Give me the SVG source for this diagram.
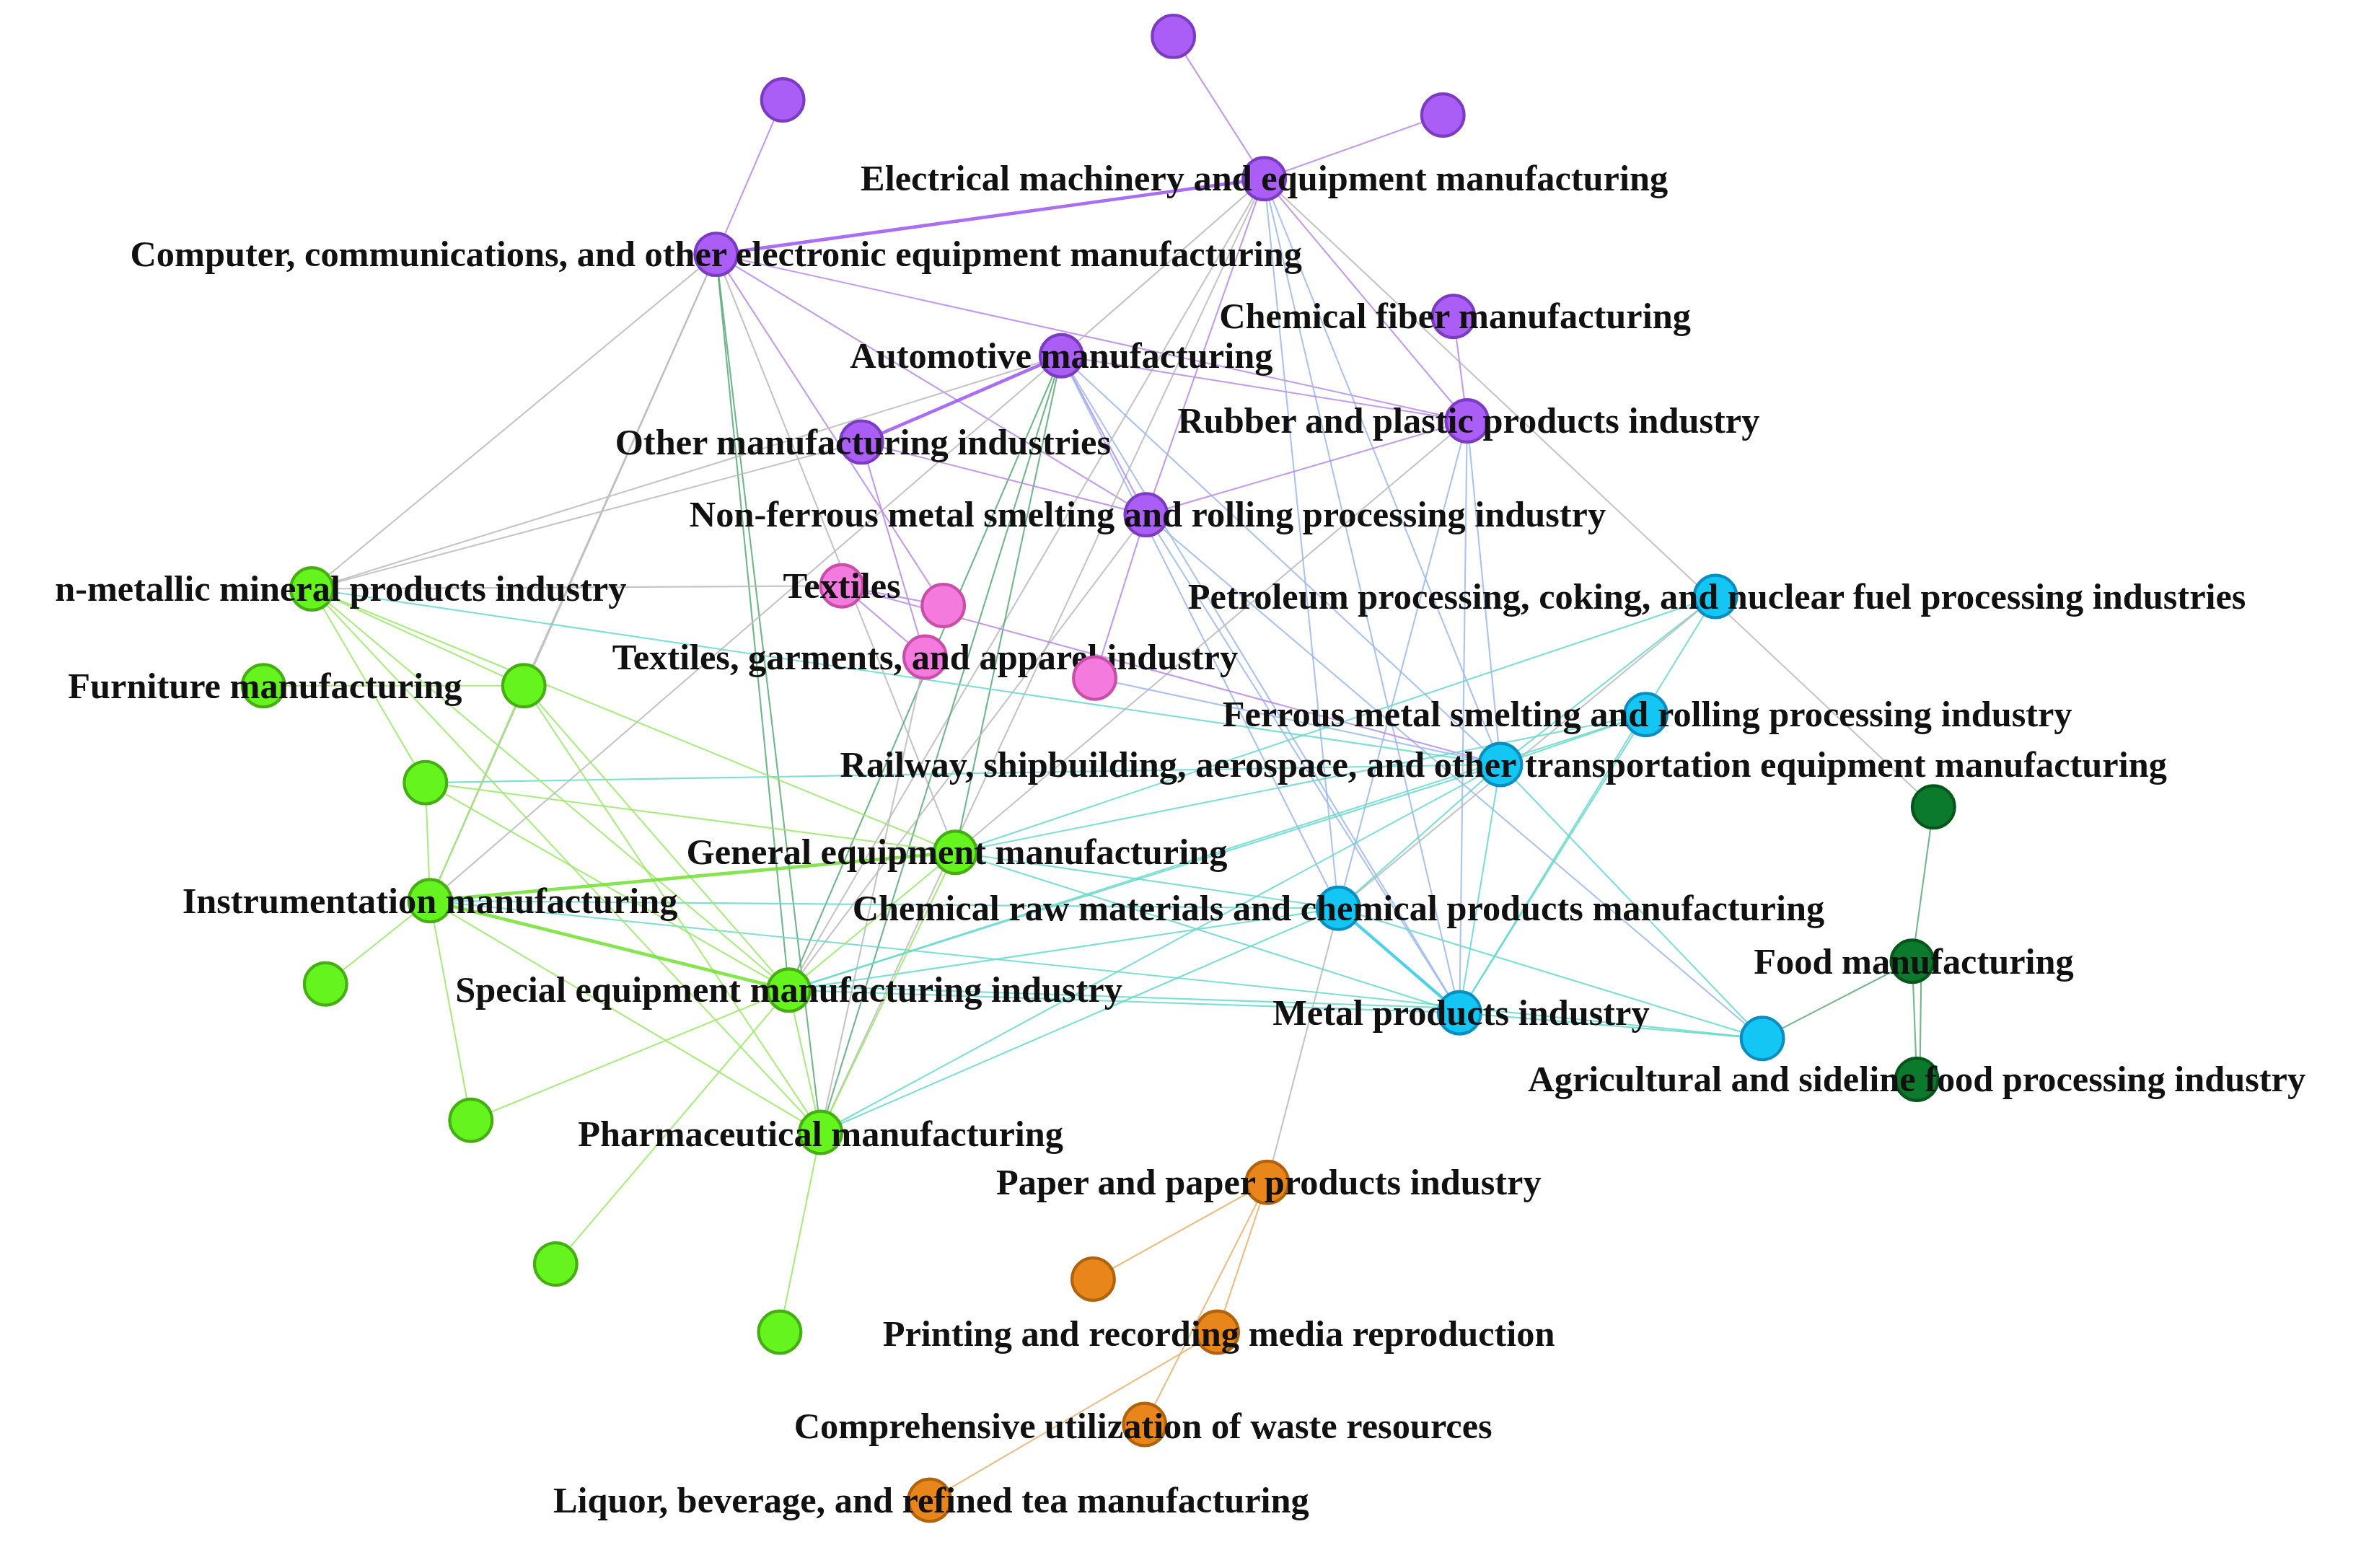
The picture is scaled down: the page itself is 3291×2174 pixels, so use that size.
<svg xmlns="http://www.w3.org/2000/svg" width="3291" height="2174" viewBox="0 0 3291 2174">
<style>
text{font-family:"Liberation Serif","DejaVu Serif",serif;font-weight:bold;font-size:24px;fill:#111;text-anchor:middle}
line{stroke-width:1;stroke-opacity:.85}
.pu{stroke:#b98ae8}.pu2{stroke:#9b55f0;stroke-width:2.2}.gr{stroke:#9be86a}.gr2{stroke:#6ee030;stroke-width:2.2}.bl{stroke:#9cb8ea}.te{stroke:#66d8cc}.te2{stroke:#2ec8e8;stroke-width:2}.gy{stroke:#bbbbbb}.dg{stroke:#5aa878}.or{stroke:#e8b070}
circle{stroke-width:2}
.p{fill:#aa5ef6;stroke:#7c3cc2}.k{fill:#f47ade;stroke:#c84ea8}.b{fill:#14c6f4;stroke:#0a8ec0}.d{fill:#0b7a2c;stroke:#05561a}.g{fill:#66f41e;stroke:#44ae12}.o{fill:#e8861c;stroke:#b0620c}
</style>
<rect width="3291" height="2174" fill="#fff"/>
<g transform="scale(2.0989)">
<g id="connectors">
<line class="pu" x1="775" y1="24" x2="835" y2="118"/>
<line class="pu" x1="517" y1="66" x2="473" y2="168"/>
<line class="pu" x1="953" y1="76" x2="835" y2="118"/>
<line class="pu2" x1="473" y1="168" x2="835" y2="118"/>
<line class="pu" x1="473" y1="168" x2="969" y2="278"/>
<line class="pu" x1="473" y1="168" x2="757" y2="340"/>
<line class="pu" x1="473" y1="168" x2="623" y2="400"/>
<line class="gy" x1="473" y1="168" x2="206" y2="389"/>
<line class="gy" x1="473" y1="168" x2="284" y2="595"/>
<line class="gy" x1="473" y1="168" x2="631" y2="563"/>
<line class="dg" x1="473" y1="168" x2="521" y2="654"/>
<line class="dg" x1="473" y1="168" x2="542" y2="748"/>
<line class="gy" x1="473" y1="168" x2="346" y2="453"/>
<line class="gy" x1="835" y1="118" x2="701" y2="235"/>
<line class="pu" x1="835" y1="118" x2="969" y2="278"/>
<line class="bl" x1="835" y1="118" x2="884" y2="600"/>
<line class="bl" x1="835" y1="118" x2="964" y2="669"/>
<line class="bl" x1="835" y1="118" x2="991" y2="505"/>
<line class="gy" x1="835" y1="118" x2="1277" y2="533"/>
<line class="gy" x1="835" y1="118" x2="521" y2="654"/>
<line class="gy" x1="835" y1="118" x2="542" y2="748"/>
<line class="pu" x1="835" y1="118" x2="757" y2="340"/>
<line class="pu" x1="960" y1="209" x2="969" y2="278"/>
<line class="pu" x1="701" y1="235" x2="969" y2="278"/>
<line class="pu2" x1="701" y1="235" x2="569" y2="292"/>
<line class="pu" x1="701" y1="235" x2="757" y2="340"/>
<line class="bl" x1="701" y1="235" x2="884" y2="600"/>
<line class="bl" x1="701" y1="235" x2="964" y2="669"/>
<line class="bl" x1="701" y1="235" x2="991" y2="505"/>
<line class="dg" x1="701" y1="235" x2="521" y2="654"/>
<line class="dg" x1="701" y1="235" x2="542" y2="748"/>
<line class="dg" x1="701" y1="235" x2="631" y2="563"/>
<line class="gy" x1="701" y1="235" x2="284" y2="595"/>
<line class="gy" x1="701" y1="235" x2="206" y2="389"/>
<line class="pu" x1="969" y1="278" x2="757" y2="340"/>
<line class="bl" x1="969" y1="278" x2="884" y2="600"/>
<line class="bl" x1="969" y1="278" x2="964" y2="669"/>
<line class="gy" x1="969" y1="278" x2="631" y2="563"/>
<line class="bl" x1="969" y1="278" x2="991" y2="505"/>
<line class="pu" x1="569" y1="292" x2="611" y2="434"/>
<line class="gy" x1="569" y1="292" x2="206" y2="389"/>
<line class="pu" x1="569" y1="292" x2="757" y2="340"/>
<line class="bl" x1="757" y1="340" x2="964" y2="669"/>
<line class="gy" x1="757" y1="340" x2="521" y2="654"/>
<line class="pu" x1="757" y1="340" x2="723" y2="448"/>
<line class="bl" x1="757" y1="340" x2="1164" y2="686"/>
<line class="pu" x1="556" y1="387" x2="623" y2="400"/>
<line class="pu" x1="556" y1="387" x2="611" y2="434"/>
<line class="gy" x1="556" y1="387" x2="206" y2="389"/>
<line class="pu" x1="556" y1="387" x2="991" y2="505"/>
<line class="gy" x1="611" y1="434" x2="542" y2="748"/>
<line class="bl" x1="723" y1="448" x2="991" y2="505"/>
<line class="te" x1="1133" y1="394" x2="991" y2="505"/>
<line class="te" x1="1133" y1="394" x2="631" y2="563"/>
<line class="te" x1="1133" y1="394" x2="964" y2="669"/>
<line class="gy" x1="1133" y1="394" x2="884" y2="600"/>
<line class="te" x1="1087" y1="472" x2="991" y2="505"/>
<line class="te" x1="1087" y1="472" x2="521" y2="654"/>
<line class="te" x1="1087" y1="472" x2="631" y2="563"/>
<line class="te" x1="1087" y1="472" x2="964" y2="669"/>
<line class="te" x1="991" y1="505" x2="884" y2="600"/>
<line class="te" x1="991" y1="505" x2="964" y2="669"/>
<line class="te" x1="991" y1="505" x2="1164" y2="686"/>
<line class="te" x1="991" y1="505" x2="521" y2="654"/>
<line class="te" x1="991" y1="505" x2="281" y2="517"/>
<line class="te" x1="991" y1="505" x2="206" y2="389"/>
<line class="te" x1="991" y1="505" x2="542" y2="748"/>
<line class="te2" x1="884" y1="600" x2="964" y2="669"/>
<line class="te" x1="884" y1="600" x2="1164" y2="686"/>
<line class="te" x1="884" y1="600" x2="284" y2="595"/>
<line class="te" x1="884" y1="600" x2="521" y2="654"/>
<line class="te" x1="884" y1="600" x2="542" y2="748"/>
<line class="te" x1="884" y1="600" x2="631" y2="563"/>
<line class="gy" x1="884" y1="600" x2="837" y2="781"/>
<line class="te" x1="964" y1="669" x2="1164" y2="686"/>
<line class="te" x1="964" y1="669" x2="521" y2="654"/>
<line class="te" x1="964" y1="666" x2="521" y2="651"/>
<line class="te" x1="964" y1="669" x2="631" y2="563"/>
<line class="te" x1="1164" y1="686" x2="284" y2="595"/>
<line class="dg" x1="1164" y1="686" x2="1263" y2="635"/>
<line class="dg" x1="1277" y1="533" x2="1263" y2="635"/>
<line class="dg" x1="1263" y1="635" x2="1266" y2="713"/>
<line class="dg" x1="1269" y1="635" x2="1268" y2="713"/>
<line class="gr" x1="206" y1="389" x2="346" y2="453"/>
<line class="gr" x1="206" y1="389" x2="281" y2="517"/>
<line class="gr" x1="206" y1="389" x2="631" y2="563"/>
<line class="gr" x1="206" y1="389" x2="521" y2="654"/>
<line class="gr" x1="206" y1="389" x2="542" y2="748"/>
<line class="gr" x1="174" y1="453" x2="346" y2="453"/>
<line class="gr" x1="346" y1="453" x2="284" y2="595"/>
<line class="gr" x1="346" y1="453" x2="521" y2="654"/>
<line class="gr" x1="346" y1="453" x2="542" y2="748"/>
<line class="gr" x1="281" y1="517" x2="284" y2="595"/>
<line class="gr" x1="281" y1="517" x2="631" y2="563"/>
<line class="gr" x1="281" y1="517" x2="521" y2="654"/>
<line class="gr2" x1="284" y1="595" x2="631" y2="563"/>
<line class="gr2" x1="284" y1="595" x2="521" y2="654"/>
<line class="gr" x1="284" y1="595" x2="215" y2="650"/>
<line class="gr" x1="284" y1="595" x2="311" y2="740"/>
<line class="gr" x1="284" y1="595" x2="542" y2="748"/>
<line class="gr" x1="631" y1="563" x2="521" y2="654"/>
<line class="gr" x1="631" y1="563" x2="542" y2="748"/>
<line class="gr" x1="521" y1="654" x2="311" y2="740"/>
<line class="gr" x1="521" y1="654" x2="542" y2="748"/>
<line class="gr" x1="521" y1="654" x2="367" y2="835"/>
<line class="gr" x1="542" y1="748" x2="515" y2="880"/>
<line class="or" x1="837" y1="781" x2="722" y2="845"/>
<line class="or" x1="837" y1="781" x2="804" y2="880"/>
<line class="or" x1="837" y1="781" x2="756" y2="941"/>
<line class="or" x1="804" y1="880" x2="614" y2="991"/>
</g>
<g id="n-p1"><circle class="p" cx="775" cy="24" r="14"/></g>
<g id="n-p2"><circle class="p" cx="517" cy="66" r="14"/></g>
<g id="n-p3"><circle class="p" cx="953" cy="76" r="14"/></g>
<g id="n-elec"><circle class="p" cx="835" cy="118" r="14"/><text x="835" y="126">Electrical machinery and equipment manufacturing</text></g>
<g id="n-comp"><circle class="p" cx="473" cy="168" r="14"/><text x="473" y="176">Computer, communications, and other electronic equipment manufacturing</text></g>
<g id="n-fiber"><circle class="p" cx="960" cy="209" r="14"/><text x="961" y="217">Chemical fiber manufacturing</text></g>
<g id="n-auto"><circle class="p" cx="701" cy="235" r="14"/><text x="701" y="243">Automotive manufacturing</text></g>
<g id="n-rubber"><circle class="p" cx="969" cy="278" r="14"/><text x="970" y="286">Rubber and plastic products industry</text></g>
<g id="n-other"><circle class="p" cx="569" cy="292" r="14"/><text x="570" y="300">Other manufacturing industries</text></g>
<g id="n-nonferrous"><circle class="p" cx="757" cy="340" r="14"/><text x="758" y="348">Non-ferrous metal smelting and rolling processing industry</text></g>
<g id="n-textiles"><circle class="k" cx="556" cy="387" r="14"/><text x="556" y="395">Textiles</text></g>
<g id="n-pinkA"><circle class="k" cx="623" cy="400" r="14"/></g>
<g id="n-texgarm"><circle class="k" cx="611" cy="434" r="14"/><text x="611" y="442">Textiles, garments, and apparel industry</text></g>
<g id="n-pinkB"><circle class="k" cx="723" cy="448" r="14"/></g>
<g id="n-petroleum"><circle class="b" cx="1133" cy="394" r="14"/><text x="1134" y="402">Petroleum processing, coking, and nuclear fuel processing industries</text></g>
<g id="n-ferrous"><circle class="b" cx="1087" cy="472" r="14"/><text x="1088" y="480">Ferrous metal smelting and rolling processing industry</text></g>
<g id="n-railway"><circle class="b" cx="991" cy="505" r="14"/><text x="993" y="513">Railway, shipbuilding, aerospace, and other transportation equipment manufacturing</text></g>
<g id="n-chemraw"><circle class="b" cx="884" cy="600" r="14"/><text x="884" y="608">Chemical raw materials and chemical products manufacturing</text></g>
<g id="n-metal"><circle class="b" cx="964" cy="669" r="14"/><text x="965" y="677">Metal products industry</text></g>
<g id="n-blueAgri"><circle class="b" cx="1164" cy="686" r="14"/></g>
<g id="n-dg1"><circle class="d" cx="1277" cy="533" r="14"/></g>
<g id="n-food"><circle class="d" cx="1263" cy="635" r="14"/><text x="1264" y="643">Food manufacturing</text></g>
<g id="n-agri"><circle class="d" cx="1266" cy="713" r="14"/><text x="1266" y="721">Agricultural and sideline food processing industry</text></g>
<g id="n-nonmetal"><circle class="g" cx="206" cy="389" r="14"/><text x="225" y="397">n-metallic mineral products industry</text></g>
<g id="n-furniture"><circle class="g" cx="174" cy="453" r="14"/><text x="175" y="461">Furniture manufacturing</text></g>
<g id="n-g346"><circle class="g" cx="346" cy="453" r="14"/></g>
<g id="n-g281"><circle class="g" cx="281" cy="517" r="14"/></g>
<g id="n-general"><circle class="g" cx="631" cy="563" r="14"/><text x="632" y="571">General equipment manufacturing</text></g>
<g id="n-instr"><circle class="g" cx="284" cy="595" r="14"/><text x="284" y="603">Instrumentation manufacturing</text></g>
<g id="n-g215"><circle class="g" cx="215" cy="650" r="14"/></g>
<g id="n-special"><circle class="g" cx="521" cy="654" r="14"/><text x="521" y="662">Special equipment manufacturing industry</text></g>
<g id="n-g311"><circle class="g" cx="311" cy="740" r="14"/></g>
<g id="n-pharma"><circle class="g" cx="542" cy="748" r="14"/><text x="542" y="757">Pharmaceutical manufacturing</text></g>
<g id="n-g367"><circle class="g" cx="367" cy="835" r="14"/></g>
<g id="n-g515"><circle class="g" cx="515" cy="880" r="14"/></g>
<g id="n-paper"><circle class="o" cx="837" cy="781" r="14"/><text x="838" y="789">Paper and paper products industry</text></g>
<g id="n-o722"><circle class="o" cx="722" cy="845" r="14"/></g>
<g id="n-printing"><circle class="o" cx="804" cy="880" r="14"/><text x="805" y="889">Printing and recording media reproduction</text></g>
<g id="n-waste"><circle class="o" cx="756" cy="941" r="14"/><text x="755" y="950">Comprehensive utilization of waste resources</text></g>
<g id="n-liquor"><circle class="o" cx="614" cy="991" r="14"/><text x="615" y="999">Liquor, beverage, and refined tea manufacturing</text></g>
</g>
</svg>
